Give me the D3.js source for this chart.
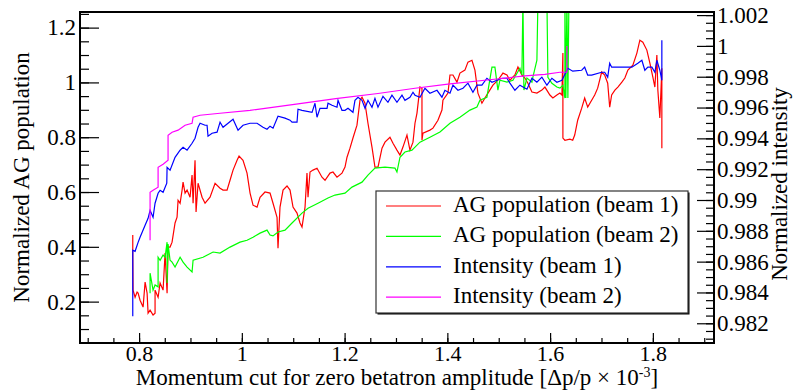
<!DOCTYPE html>
<html>
<head>
<meta charset="utf-8">
<script src="https://cdn.jsdelivr.net/npm/d3@7"></script>
<style>
  body { margin: 0; background: #fff; }
  svg text { font-family: "Liberation Serif", "Times New Roman", Times, "DejaVu Serif", serif; fill: #000; }
</style>
</head>
<body>
<div id="chart"></div>
<script>
"use strict";

// tick labels
const xMajorTicks = [0.8, 1, 1.2, 1.4, 1.6, 1.8];
const yLeftMajorTicks = [0.2, 0.4, 0.6, 0.8, 1, 1.2];
const yRightMajorTicks = [0.982, 0.984, 0.986, 0.988, 0.99, 0.992, 0.994, 0.996, 0.998, 1, 1.002];
const legendLabels = ["AG population (beam 1)", "AG population (beam 2)", "Intensity (beam 1)", "Intensity (beam 2)"];
const seriesColors = ["#ff0000", "#00ff00", "#0000ff", "#ff00ff"];

// AG population (beam 1), left axis  [momentum cut, value]
const agBeam1 = [
  [0.7877,0.443],[0.7877,0.362],[0.7883,0.242],[0.7922,0.216],[0.7961,0.235],[0.7981,0.231],
  [0.8019,0.205],[0.8078,0.180],[0.8117,0.271],[0.8156,0.231],[0.8175,0.158],[0.8214,0.169],
  [0.8272,0.151],[0.8311,0.158],[0.8311,0.242],[0.8370,0.216],[0.8409,0.268],[0.8467,0.242],
  [0.8506,0.377],[0.8545,0.231],[0.8564,0.399],[0.8603,0.399],[0.8642,0.417],[0.8700,0.487],
  [0.8739,0.508],[0.8759,0.570],[0.8798,0.559],[0.8837,0.607],[0.8856,0.636],[0.8895,0.596],
  [0.8934,0.607],[0.8992,0.581],[0.9031,0.662],[0.9051,0.559],[0.9089,0.716],[0.9109,0.527],
  [0.9148,0.632],[0.9226,0.581],[0.9284,0.559],[0.9381,0.581],[0.9479,0.632],[0.9576,0.614],
  [0.9634,0.607],[0.9712,0.607],[0.9770,0.643],[0.9829,0.680],[0.9907,0.716],[0.9946,0.731],
  [1.0023,0.716],[1.0101,0.669],[1.0160,0.596],[1.0218,0.552],[1.0296,0.545],[1.0354,0.581],
  [1.0451,0.600],[1.0549,0.596],[1.0607,0.559],[1.0685,0.508],[1.0704,0.395],[1.0743,0.545],
  [1.0802,0.607],[1.0879,0.622],[1.0938,0.607],[1.0996,0.545],[1.1074,0.523],[1.1132,0.487],
  [1.1171,0.472],[1.1230,0.545],[1.1268,0.669],[1.1288,0.581],[1.1327,0.673],[1.1385,0.680],
  [1.1463,0.687],[1.1560,0.654],[1.1619,0.643],[1.1716,0.669],[1.1774,0.673],[1.1852,0.654],
  [1.1949,0.669],[1.2008,0.691],[1.2047,0.727],[1.2105,0.760],[1.2163,0.797],[1.2241,0.844],
  [1.2300,0.935],[1.2339,0.946],[1.2397,0.924],[1.2455,0.851],[1.2533,0.764],[1.2591,0.691],
  [1.2650,0.691],[1.2728,0.760],[1.2786,0.782],[1.2883,0.800],[1.2942,0.778],[1.3019,0.753],
  [1.3078,0.735],[1.3136,0.764],[1.3214,0.808],[1.3272,0.753],[1.3331,0.782],[1.3370,0.851],
  [1.3409,0.888],[1.3467,0.983],[1.3506,0.979],[1.3506,0.789],[1.3525,0.815],[1.3661,0.826],
  [1.3720,0.833],[1.3817,0.862],[1.3895,0.899],[1.3914,0.935],[1.4012,0.961],[1.4051,1.027],
  [1.4109,1.027],[1.4187,1.001],[1.4245,1.034],[1.4342,1.045],[1.4401,1.074],[1.4479,1.081],
  [1.4537,1.045],[1.4595,0.961],[1.4673,0.924],[1.4732,0.943],[1.4790,0.961],[1.4887,0.990],
  [1.4984,1.008],[1.5082,1.034],[1.5160,1.027],[1.5218,1.008],[1.5315,1.027],[1.5374,1.056],
  [1.5451,1.027],[1.5510,1.016],[1.5568,0.997],[1.5646,0.965],[1.5743,0.961],[1.5840,0.972],
  [1.5899,0.983],[1.5996,0.954],[1.6054,0.943],[1.6132,0.954],[1.6191,0.961],[1.6230,0.954],
  [1.6249,1.107],[1.6249,0.797],[1.6288,0.789],[1.6385,0.793],[1.6440,0.789],[1.6479,0.808],
  [1.6537,0.862],[1.6615,0.906],[1.6673,0.943],[1.6732,0.910],[1.6809,0.935],[1.6868,0.954],
  [1.6926,0.979],[1.7004,1.038],[1.7062,1.027],[1.7121,0.997],[1.7160,0.910],[1.7198,0.954],
  [1.7261,0.972],[1.7319,0.983],[1.7397,1.001],[1.7455,1.016],[1.7514,1.045],[1.7611,1.063],
  [1.7689,1.107],[1.7747,1.154],[1.7805,1.147],[1.7883,1.118],[1.7942,1.070],[1.8000,1.019],
  [1.8039,0.983],[1.8078,1.100],[1.8097,0.972],[1.8136,0.870],[1.8175,1.052],[1.8175,0.760]
];

// AG population (beam 2), left axis
const agBeam2 = [
  [0.8214,0.231],[0.8214,0.304],[0.8272,0.242],[0.8311,0.261],[0.8370,0.254],[0.8370,0.362],
  [0.8409,0.351],[0.8467,0.370],[0.8506,0.362],[0.8545,0.417],[0.8545,0.268],[0.8564,0.410],
  [0.8603,0.351],[0.8642,0.344],[0.8700,0.326],[0.8798,0.362],[0.8856,0.344],[0.8934,0.326],
  [0.9031,0.308],[0.9051,0.351],[0.9245,0.362],[0.9440,0.381],[0.9576,0.377],[0.9770,0.399],
  [0.9965,0.417],[1.0101,0.424],[1.0218,0.435],[1.0354,0.450],[1.0490,0.461],[1.0549,0.443],
  [1.0607,0.440],[1.0704,0.454],[1.0840,0.461],[1.0977,0.487],[1.1171,0.523],[1.1288,0.541],
  [1.1482,0.559],[1.1677,0.578],[1.1813,0.589],[1.2008,0.596],[1.2144,0.618],[1.2339,0.636],
  [1.2455,0.662],[1.2591,0.687],[1.2786,0.691],[1.2981,0.687],[1.3019,0.673],[1.3078,0.727],
  [1.3175,0.746],[1.3311,0.753],[1.3467,0.782],[1.3661,0.800],[1.3856,0.819],[1.4051,0.851],
  [1.4245,0.873],[1.4440,0.899],[1.4576,0.910],[1.4634,0.935],[1.4770,0.946],[1.4868,1.056],
  [1.4926,1.056],[1.4984,0.972],[1.5023,1.008],[1.5160,1.001],[1.5276,1.008],[1.5412,1.052],
  [1.5451,1.027],[1.5471,1.300],[1.5490,0.972],[1.5549,1.016],[1.5646,1.001],[1.5665,1.019],
  [1.5743,1.081],[1.5763,1.300],[1.5938,1.300],[1.5957,1.019],[1.6035,0.997],[1.6132,0.983],
  [1.6191,0.979],[1.6249,0.990],[1.6288,0.943],[1.6288,1.300],[1.6307,0.943],[1.6327,1.300],
  [1.6346,0.943],[1.6366,1.300]
];

// Intensity (beam 1), right axis
const intBeam1 = [
  [0.7877,0.98245],[0.7877,0.98674],[0.7922,0.98667],[0.7981,0.98725],[0.8019,0.98758],
  [0.8117,0.98836],[0.8175,0.98881],[0.8214,0.98933],[0.8272,0.98888],[0.8311,0.98979],
  [0.8370,0.99044],[0.8409,0.99063],[0.8467,0.99050],[0.8539,0.99109],[0.8545,0.99212],
  [0.8603,0.99193],[0.8700,0.99277],[0.8798,0.99323],[0.8856,0.99342],[0.8934,0.99323],
  [0.9031,0.99368],[0.9089,0.99401],[0.9148,0.99472],[0.9187,0.99498],[0.9284,0.99485],
  [0.9323,0.99485],[0.9342,0.99414],[0.9420,0.99433],[0.9518,0.99440],[0.9576,0.99505],
  [0.9634,0.99472],[0.9732,0.99498],[0.9829,0.99524],[0.9926,0.99453],[1.0023,0.99485],
  [1.0160,0.99498],[1.0296,0.99498],[1.0412,0.99472],[1.0490,0.99459],[1.0549,0.99479],
  [1.0607,0.99466],[1.0704,0.99544],[1.0840,0.99531],[1.0938,0.99518],[1.0977,0.99505],
  [1.1074,0.99505],[1.1093,0.99589],[1.1171,0.99582],[1.1366,0.99569],[1.1424,0.99628],
  [1.1463,0.99537],[1.1521,0.99595],[1.1658,0.99595],[1.1677,0.99628],[1.1755,0.99615],
  [1.1852,0.99602],[1.1872,0.99647],[1.1949,0.99582],[1.2008,0.99582],[1.2066,0.99595],
  [1.2163,0.99569],[1.2202,0.99647],[1.2261,0.99667],[1.2339,0.99647],[1.2397,0.99595],
  [1.2455,0.99647],[1.2533,0.99602],[1.2591,0.99660],[1.2650,0.99602],[1.2747,0.99673],
  [1.2844,0.99634],[1.2922,0.99680],[1.3019,0.99634],[1.3117,0.99680],[1.3175,0.99647],
  [1.3272,0.99667],[1.3331,0.99699],[1.3370,0.99680],[1.3467,0.99667],[1.3564,0.99725],
  [1.3661,0.99693],[1.3798,0.99712],[1.3895,0.99667],[1.3953,0.99712],[1.4051,0.99693],
  [1.4109,0.99745],[1.4206,0.99712],[1.4304,0.99725],[1.4401,0.99758],[1.4498,0.99699],
  [1.4576,0.99745],[1.4673,0.99745],[1.4770,0.99790],[1.4868,0.99764],[1.4965,0.99777],
  [1.5062,0.99790],[1.5160,0.99790],[1.5218,0.99758],[1.5315,0.99712],[1.5412,0.99745],
  [1.5549,0.99719],[1.5646,0.99790],[1.5743,0.99764],[1.5840,0.99797],[1.5938,0.99745],
  [1.6035,0.99790],[1.6132,0.99764],[1.6230,0.99777],[1.6346,0.99855],[1.6440,0.99836],
  [1.6615,0.99842],[1.6673,0.99862],[1.6732,0.99810],[1.6809,0.99810],[1.7004,0.99829],
  [1.7062,0.99829],[1.7121,0.99797],[1.7160,0.99888],[1.7198,0.99862],[1.7591,0.99862],
  [1.7708,0.99888],[1.7786,0.99907],[1.7844,0.99842],[1.7903,0.99862],[1.7981,0.99862],
  [1.8039,0.99829],[1.8078,0.99907],[1.8136,0.99842],[1.8175,0.99777],[1.8175,1.00037]
];

// Intensity (beam 2), right axis
const intBeam2 = [
  [0.8214,0.98738],[0.8214,0.99050],[0.8272,0.99063],[0.8370,0.99083],[0.8370,0.99212],
  [0.8467,0.99232],[0.8564,0.99258],[0.8564,0.99420],[0.8642,0.99440],[0.8759,0.99453],
  [0.8895,0.99485],[0.9031,0.99498],[0.9051,0.99537],[0.9187,0.99550],[0.9576,0.99563],
  [1.0160,0.99582],[1.0451,0.99595],[1.1093,0.99624],[1.1827,0.99658],[1.2650,0.99691],
  [1.3370,0.99725],[1.4051,0.99753],[1.4868,0.99782],[1.5510,0.99805],[1.5899,0.99815],
  [1.6191,0.99829],[1.6327,0.99829],[1.6327,1.00000]
];

const W = 795, H = 392;
const plot = {left: 80, right: 714, top: 12, bottom: 343};
const serif = "'Liberation Serif', 'Times New Roman', Times, 'DejaVu Serif', serif";

const svg = d3.select("#chart").append("svg")
  .attr("width", W).attr("height", H)
  .attr("viewBox", `0 0 ${W} ${H}`)
  .attr("font-family", serif);

svg.append("rect").attr("width", W).attr("height", H).attr("fill", "#fff");

const x = d3.scaleLinear().domain([0.685, 1.919]).range([plot.left, plot.right]);
const yL = d3.scaleLinear().domain([0.049, 1.257]).range([plot.bottom, plot.top]);
const yR = d3.scaleLinear().domain([0.98072, 1.0022]).range([plot.bottom, plot.top]);

const fmt = d => String(+d.toFixed(3));
const fontSize = 23;

// clip
svg.append("clipPath").attr("id", "clip")
  .append("rect")
  .attr("x", plot.left).attr("y", plot.top)
  .attr("width", plot.right - plot.left).attr("height", plot.bottom - plot.top);

// data lines
const series = [
  {data: agBeam1, y: yL, color: seriesColors[0]},
  {data: agBeam2, y: yL, color: seriesColors[1]},
  {data: intBeam1, y: yR, color: seriesColors[2]},
  {data: intBeam2, y: yR, color: seriesColors[3]}
];

const lines = svg.append("g").attr("clip-path", "url(#clip)");
series.forEach(s => {
  lines.append("path")
    .datum(s.data)
    .attr("fill", "none")
    .attr("stroke", s.color)
    .attr("stroke-width", 1.2)
    .attr("d", d3.line().x(d => x(d[0])).y(d => s.y(d[1])));
});

// axes
function styleAxis(g, size) {
  g.attr("font-family", serif);
  g.select(".domain").remove();
  g.selectAll(".tick line").attr("stroke", "#000").attr("stroke-width", 1.2);
  g.selectAll(".tick text")
    .attr("font-family", serif)
    .attr("font-size", size || fontSize).attr("fill", "#000");
}

// bottom
svg.append("g")
  .attr("transform", `translate(0,${plot.bottom})`)
  .call(d3.axisBottom(x).tickValues(d3.range(0.7, 1.92, 0.05)).tickSize(-5).tickFormat(""))
  .call(styleAxis);
svg.append("g")
  .attr("transform", `translate(0,${plot.bottom})`)
  .call(d3.axisBottom(x).tickValues(xMajorTicks).tickSize(-10).tickPadding(2).tickFormat(fmt))
  .call(g => styleAxis(g, 22));

// left
svg.append("g")
  .attr("transform", `translate(${plot.left},0)`)
  .call(d3.axisLeft(yL).tickValues(d3.range(0.05, 1.26, 0.05)).tickSize(-9).tickFormat(""))
  .call(styleAxis);
svg.append("g")
  .attr("transform", `translate(${plot.left},0)`)
  .call(d3.axisLeft(yL).tickValues(yLeftMajorTicks).tickSize(-19).tickPadding(4).tickFormat(fmt))
  .call(styleAxis);

// right
svg.append("g")
  .attr("transform", `translate(${plot.right},0)`)
  .call(d3.axisRight(yR).tickValues(d3.range(0.981, 1.00221, 0.0005)).tickSize(-8).tickFormat(""))
  .call(styleAxis);
svg.append("g")
  .attr("transform", `translate(${plot.right},0)`)
  .call(d3.axisRight(yR).tickValues(yRightMajorTicks).tickSize(-17).tickPadding(3).tickFormat(fmt))
  .call(styleAxis);

// frame
svg.append("path")
  .attr("fill", "none").attr("stroke", "#000").attr("stroke-width", 2)
  .attr("d", `M${plot.left},${plot.top}H${plot.right}V${plot.bottom}H${plot.left}Z`);

// axis titles
const xt = svg.append("text")
  .attr("x", (plot.left + plot.right) / 2)
  .attr("y", 385)
  .attr("text-anchor", "middle")
  .attr("font-size", fontSize);
xt.append("tspan").text("Momentum cut for zero betatron amplitude [Δp/p × 10");
xt.append("tspan").attr("font-size", 14).attr("dy", -8).text("-3");
xt.append("tspan").attr("dy", 8).text("]");

svg.append("text")
  .attr("transform", `translate(29,${(plot.top + plot.bottom) / 2}) rotate(-90)`)
  .attr("text-anchor", "middle")
  .attr("font-size", fontSize)
  .text("Normalized AG population");

svg.append("text")
  .attr("transform", `translate(787,184) rotate(-90)`)
  .attr("text-anchor", "middle")
  .attr("font-size", fontSize)
  .text("Normalized intensity");

// legend
const legend = svg.append("g");
legend.append("rect")
  .attr("x", 377.5).attr("y", 192.5).attr("width", 312).attr("height", 122)
  .attr("fill", "#000");
legend.append("rect")
  .attr("x", 376).attr("y", 191).attr("width", 312).attr("height", 122)
  .attr("fill", "#fff").attr("stroke", "#333").attr("stroke-width", 1.2);

legendLabels.forEach((label, i) => {
  const cy = 206 + i * 30.4;
  legend.append("line")
    .attr("x1", 386).attr("x2", 441)
    .attr("y1", cy).attr("y2", cy)
    .attr("stroke", seriesColors[i]).attr("stroke-width", 1.2);
  legend.append("text")
    .attr("x", 453).attr("y", cy + 6)
    .attr("font-size", fontSize)
    .text(label);
});
</script>
</body>
</html>
